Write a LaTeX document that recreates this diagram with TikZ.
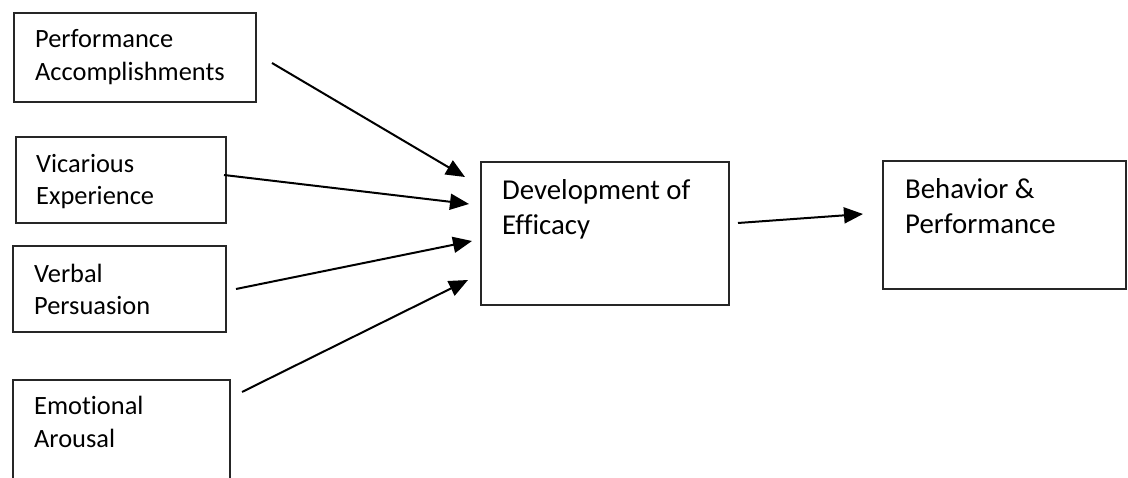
\documentclass[tikz,border=0pt]{standalone}
\usepackage{fontspec}
\setmainfont{Carlito}[Ligatures={NoCommon}]
\usetikzlibrary{arrows.meta}
\begin{document}
\begin{tikzpicture}[x=1pt,y=-1pt,
  box/.style={draw=black!85, line width=1.3pt, rectangle, anchor=north west, inner sep=0pt, outer sep=0pt},
  small/.style={anchor=base west, inner sep=0pt, font=\fontsize{26.4}{33}\selectfont},
  big/.style={anchor=base west, inner sep=0pt, font=\fontsize{28.8}{35}\selectfont},
  arr/.style={line width=2pt, -{Triangle[length=19pt,width=16pt]}}]
\useasboundingbox (0,0) rectangle (1128,478);
\clip (0,0) rectangle (1128,478);
% boxes
\node[box, minimum width=242pt, minimum height=89pt] (b1) at (14,13) {};
\node[box, minimum width=210pt, minimum height=86pt] (b2) at (16,137) {};
\node[box, minimum width=213pt, minimum height=86pt] (b3) at (13,246) {};
\node[box, minimum width=217pt, minimum height=140pt] (b4) at (13,380) {};
\node[box, minimum width=248pt, minimum height=143pt] (dev) at (481,162) {};
\node[box, minimum width=243pt, minimum height=128pt] (beh) at (883,161) {};
% texts
\node[small] (t1a) at (35,48) {Performance};
\node[small] (t1b) at (35,81) {Accomplishments};
\node[small] (t2a) at (36,173) {Vicarious};
\node[small] (t2b) at (36,205) {Experience};
\node[small] (t3a) at (34,283) {Verbal};
\node[small] (t3b) at (34,315) {Persuasion};
\node[small] (t4a) at (34,415) {Emotional};
\node[small] (t4b) at (34,447) {Arousal};
\node[big] (t5a) at (502,200) {Development of};
\node[big] (t5b) at (502,235) {Efficacy};
\node[big] (t6a) at (905,199) {Behavior \&};
\node[big] (t6b) at (905,234) {Performance};
% arrows
\draw[arr] ([xshift=16pt,yshift=-5.5pt]b1.east) -- ([xshift=-16pt,yshift=56.5pt]dev.west);
\draw[arr] ([xshift=-2pt,yshift=5pt]b2.east) -- ([xshift=-12pt,yshift=29.5pt]dev.west);
\draw[arr] ([xshift=10pt,yshift=0pt]b3.east) -- ([xshift=-9pt,yshift=-7.5pt]dev.west);
\draw[arr] ([xshift=12pt,yshift=58pt]b4.east) -- ([xshift=-13pt,yshift=-46.5pt]dev.west);
\draw[arr] ([xshift=9pt,yshift=10.5pt]dev.east) -- ([xshift=-20pt,yshift=11pt]beh.west);
\end{tikzpicture}
\end{document}
